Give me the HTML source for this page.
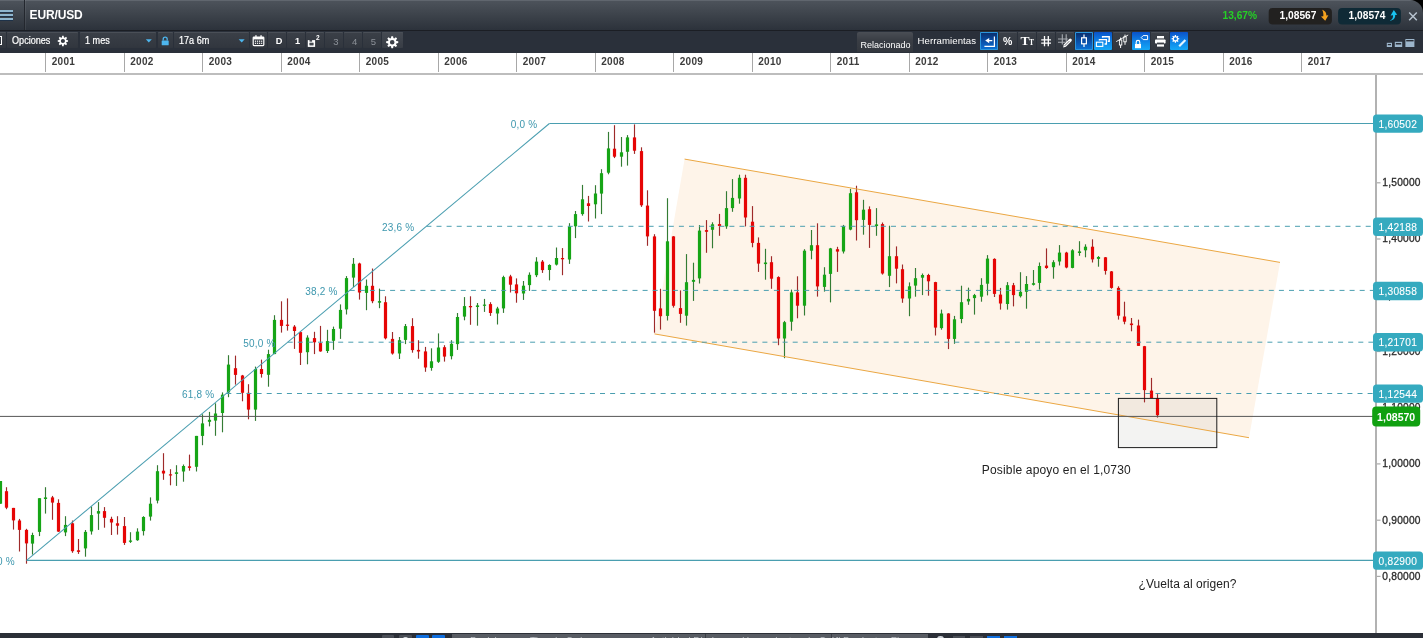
<!DOCTYPE html>
<html><head><meta charset="utf-8"><title>EUR/USD</title>
<style>
html,body{margin:0;padding:0;}
body{width:1423px;height:638px;overflow:hidden;background:#fff;position:relative;font-family:"Liberation Sans",Arial,sans-serif;}
#corner{position:absolute;right:0;top:0;width:14px;height:14px;background:#000;}
#topbar{position:absolute;left:0;top:0;width:1423px;height:30px;background:linear-gradient(#6a7078 0,#4c525a 1.5px,#3b4149 55%,#2c323b 100%);border-top-right-radius:13px;}
#topline{position:absolute;left:0;top:30px;width:1423px;height:1.5px;background:#1b1e24;}
#toolbar{position:absolute;left:0;top:31px;width:1423px;height:21.5px;background:#2a303a;}
#menu{position:absolute;left:0;top:0;width:24px;height:30px;border-right:1px solid #23272e;box-shadow:1px 0 0 rgba(255,255,255,0.07);}
#menu i{position:absolute;left:0;width:13px;height:2px;background:#8fb6cf;box-shadow:0 1px 0 rgba(20,45,75,0.7);}
#title{position:absolute;left:29.5px;top:7.5px;font-size:12px;font-weight:bold;color:#fff;letter-spacing:-0.12px;}
.btn{position:absolute;top:32px;height:16px;background:linear-gradient(#3b4048,#31363e);border-radius:1px;box-shadow:inset 0 1px 0 #4a4f57;}
.t{position:absolute;color:#fff;font-size:10px;white-space:nowrap;}
.yt{position:absolute;top:52.5px;width:1px;height:19.6px;background:#a8a8a8;}
.yl{position:absolute;top:55.6px;font-size:10px;font-weight:bold;color:#3c3c3c;letter-spacing:0.3px;}
#axisline{position:absolute;left:0;top:73px;width:1423px;height:2px;background:#bdbdbd;}
#bottom{position:absolute;left:0;top:633px;width:1423px;height:5px;background:#2b2f37;}
.bt{position:absolute;top:635.6px;font-size:10px;color:#b9bdc3;white-space:nowrap;}
</style></head><body>
<div id="corner"></div>
<div id="topbar"></div><div id="topline"></div>
<div id="menu"><i style="top:9.8px"></i><i style="top:14px"></i><i style="top:18.2px"></i></div>
<div id="title">EUR/USD</div>
<div id="toolbar"></div>
<div class="btn" style="left:-14px;width:20px;"></div>
<div style="position:absolute;left:-7px;top:36.1px;width:9.1px;height:8.9px;border:1px solid #fff;box-sizing:border-box"></div>
<div class="btn" style="left:7.2px;width:70.6px;"></div>
<div class="t" style="left:11.7px;top:34.7px;font-size:10.4px;transform:scaleX(0.875);transform-origin:0 0;-webkit-text-stroke:0.2px #fff">Opciones</div>
<div class="btn" style="left:80px;width:76px;"></div>
<div class="t" style="left:84.5px;top:34.7px;font-size:10.4px;transform:scaleX(0.875);transform-origin:0 0;-webkit-text-stroke:0.2px #fff">1 mes</div>
<div class="btn" style="left:157.5px;width:15.5px;"></div>
<div class="btn" style="left:174px;width:75.2px;"></div>
<div class="t" style="left:178.5px;top:34.7px;font-size:10.4px;transform:scaleX(0.875);transform-origin:0 0;-webkit-text-stroke:0.2px #fff">17a 6m</div>
<div class="btn" style="left:250.1px;width:17.2px;"></div>
<div class="btn" style="left:268.1px;width:18.1px;"></div>
<div class="btn" style="left:287.1px;width:18.1px;"></div>
<div class="btn" style="left:306.1px;width:17.9px;"></div>
<div class="btn" style="left:325.1px;width:18.1px;"></div>
<div class="btn" style="left:344.1px;width:18.1px;"></div>
<div class="btn" style="left:363.1px;width:18.1px;"></div>
<div class="btn" style="left:382px;width:20.7px;background:linear-gradient(#454a52,#383d45);"></div>
<div class="t" style="left:275.7px;top:36.3px;font-weight:bold;font-size:9.2px">D</div>
<div class="t" style="left:295px;top:36.3px;font-weight:bold;font-size:9.2px">1</div>
<div class="t" style="left:315.9px;top:34.4px;font-weight:bold;font-size:6.5px">2</div>
<div class="t" style="left:333.3px;top:36px;font-size:9.5px;color:#8d9299">3</div>
<div class="t" style="left:352.0px;top:36px;font-size:9.5px;color:#8d9299">4</div>
<div class="t" style="left:370.7px;top:36px;font-size:9.5px;color:#8d9299">5</div>
<div style="position:absolute;left:857px;top:32.2px;width:56px;height:20.3px;background:linear-gradient(#4a4e55,#3a3e45 40%,#33373e);border-radius:2px 2px 0 0"></div>
<div class="t" style="left:860.6px;top:39.6px;font-size:9px">Relacionado</div>
<div class="t" style="left:917.6px;top:34.9px;font-size:9.6px;letter-spacing:0.08px">Herramientas</div>
<div class="btn" style="left:980px;width:18px;top:31.8px;height:18.4px;background:linear-gradient(#0a2c68,#0a55b0 60%,#0a74d8);box-shadow:inset 0 0 0 1px #2b95dc;"></div>
<div class="btn" style="left:999px;width:18px;top:31.8px;height:18.4px;"></div>
<div class="btn" style="left:1018px;width:18px;top:31.8px;height:18.4px;"></div>
<div class="btn" style="left:1037px;width:18px;top:31.8px;height:18.4px;"></div>
<div class="btn" style="left:1056px;width:18px;top:31.8px;height:18.4px;"></div>
<div class="btn" style="left:1075px;width:18px;top:31.8px;height:18.4px;background:linear-gradient(#0a2c68,#0a55b0 60%,#0a74d8);box-shadow:inset 0 0 0 1px #2b95dc;"></div>
<div class="btn" style="left:1094px;width:18px;top:31.8px;height:18.4px;background:linear-gradient(#0a52c8,#0f86e8 55%,#15a8f6);box-shadow:none;"></div>
<div class="btn" style="left:1113px;width:18px;top:31.8px;height:18.4px;"></div>
<div class="btn" style="left:1132px;width:18px;top:31.8px;height:18.4px;background:linear-gradient(#0a52c8,#0f86e8 55%,#15a8f6);box-shadow:none;"></div>
<div class="btn" style="left:1151px;width:18px;top:31.8px;height:18.4px;"></div>
<div class="btn" style="left:1170px;width:18px;top:31.8px;height:18.4px;background:linear-gradient(#0a52c8,#0f86e8 55%,#15a8f6);box-shadow:none;"></div>
<svg width="1423" height="53" viewBox="0 0 1423 53" style="position:absolute;left:0;top:0">
<path d="M66.45,39.96 L68.05,40.25 L68.05,41.75 L66.45,42.04 L66.15,42.78 L67.07,44.11 L66.01,45.17 L64.68,44.25 L63.94,44.55 L63.65,46.15 L62.15,46.15 L61.86,44.55 L61.12,44.25 L59.79,45.17 L58.73,44.11 L59.65,42.78 L59.35,42.04 L57.75,41.75 L57.75,40.25 L59.35,39.96 L59.65,39.22 L58.73,37.89 L59.79,36.83 L61.12,37.75 L61.86,37.45 L62.15,35.85 L63.65,35.85 L63.94,37.45 L64.68,37.75 L66.01,36.83 L67.07,37.89 L66.15,39.22Z M65.00,41.00 A2.1,2.1 0 1,0 60.80,41.00 A2.1,2.1 0 1,0 65.00,41.00Z" fill="#fff" fill-rule="evenodd"/>
<path d="M145.8,39.2 L151.8,39.2 L148.8,42.6Z" fill="#4db6ee"/>
<path d="M238.7,39.2 L244.7,39.2 L241.7,42.6Z" fill="#4db6ee"/>
<rect x="161.7" y="40.4" width="7" height="4.9" rx="0.6" fill="#4db6ee"/>
<path d="M163.2,40.6 V39.2 A2,2.1 0 0 1 167.2,39.2 V40.6" fill="none" stroke="#4db6ee" stroke-width="1.3"/>
<rect x="253.2" y="37" width="10.6" height="8.6" rx="0.8" fill="none" stroke="#fff" stroke-width="1.2"/>
<rect x="253.2" y="37" width="10.6" height="2.4" fill="#fff"/>
<rect x="255.3" y="35.2" width="1.3" height="2.6" fill="#fff"/><rect x="260.4" y="35.2" width="1.3" height="2.6" fill="#fff"/>
<rect x="254.90" y="40.60" width="1.2" height="1.2" fill="#fff"/>
<rect x="256.95" y="40.60" width="1.2" height="1.2" fill="#fff"/>
<rect x="259.00" y="40.60" width="1.2" height="1.2" fill="#fff"/>
<rect x="261.05" y="40.60" width="1.2" height="1.2" fill="#fff"/>
<rect x="254.90" y="42.70" width="1.2" height="1.2" fill="#fff"/>
<rect x="256.95" y="42.70" width="1.2" height="1.2" fill="#fff"/>
<rect x="259.00" y="42.70" width="1.2" height="1.2" fill="#fff"/>
<rect x="261.05" y="42.70" width="1.2" height="1.2" fill="#fff"/>
<rect x="307.8" y="40.1" width="7.3" height="6.8" fill="#fff"/>
<rect x="309.5" y="40.1" width="2.6" height="1.5" fill="#343941"/><rect x="309.5" y="42.7" width="4" height="2.7" fill="#343941"/><rect x="309.5" y="43.6" width="4" height="0.8" fill="#5a5f66"/>
<rect x="309.5" y="44" width="4.2" height="2.2" fill="#fff" opacity="0"/>
<path d="M396.33,40.99 L398.24,41.32 L398.24,43.08 L396.33,43.41 L395.97,44.26 L397.09,45.85 L395.85,47.09 L394.26,45.97 L393.41,46.33 L393.08,48.24 L391.32,48.24 L390.99,46.33 L390.14,45.97 L388.55,47.09 L387.31,45.85 L388.43,44.26 L388.07,43.41 L386.16,43.08 L386.16,41.32 L388.07,40.99 L388.43,40.14 L387.31,38.55 L388.55,37.31 L390.14,38.43 L390.99,38.07 L391.32,36.16 L393.08,36.16 L393.41,38.07 L394.26,38.43 L395.85,37.31 L397.09,38.55 L395.97,40.14Z M394.50,42.20 A2.3,2.3 0 1,0 389.90,42.20 A2.3,2.3 0 1,0 394.50,42.20Z" fill="#fff" fill-rule="evenodd"/>
<path d="M984.4,46.4 H994.4 V36.6" fill="none" stroke="#fff" stroke-width="1.2"/>
<path d="M985.2,40.6 L989.2,37.9 V39.9 H992.3 V41.3 H989.2 V43.3Z" fill="#fff"/>
<text x="1003.1" y="45.3" font-size="10.5" font-weight="bold" fill="#fff" font-family="Liberation Sans, Arial, sans-serif">%</text>
<text x="1020.6" y="45.1" font-size="13.5" font-weight="bold" fill="#fff" font-family="Liberation Serif, serif">T</text>
<text x="1028.9" y="45.1" font-size="7.5" font-weight="bold" fill="#fff" font-family="Liberation Serif, serif">T</text>
<path d="M1044.5,36 V46.2 M1048.3,36 V46.2 M1041.2,39.8 H1051 M1041.2,43.1 H1051" stroke="#fff" stroke-width="1.3" fill="none"/>
<path d="M1062.3,34.3 V44.4 M1066.2,34.3 V44.4 M1058,39 H1067.8 M1058,42.2 H1065" stroke="#a9adb3" stroke-width="1.1" fill="none"/>
<path d="M1063.2,47.4 L1063.7,44.6 L1069.2,39.1 A1.2,1.2 0 0 1 1071.4,41.2 L1065.9,46.7Z" fill="#fff"/>
<path d="M1064.6,45.9 L1069.4,41.1" stroke="#33383f" stroke-width="0.7"/>
<path d="M1084,34.6 V47" stroke="#fff" stroke-width="1.2"/><rect x="1081.6" y="37.8" width="4.8" height="6" fill="#0a4ea6" stroke="#fff" stroke-width="1.2"/>
<rect x="1096.4" y="42.2" width="6.4" height="4.2" fill="none" stroke="#fff" stroke-width="1.1"/>
<path d="M1099.4,40.6 V39.6 H1106.4 V44 H1104.6" fill="none" stroke="#fff" stroke-width="1.3"/>
<path d="M1102.6,37.8 V36.8 H1109.2 V41.2 H1107.8" fill="none" stroke="#fff" stroke-width="1.4"/>
<path d="M1120.6,37.6 V48 M1125,34.6 V44.8" stroke="#fff" stroke-width="1"/>
<rect x="1119.4" y="40" width="2.4" height="5" fill="#33383f" stroke="#fff" stroke-width="0.9"/><rect x="1123.8" y="36.8" width="2.4" height="5" fill="#33383f" stroke="#fff" stroke-width="0.9"/>
<path d="M1116.2,41.6 L1128.2,35" stroke="#fff" stroke-width="0.9"/>
<rect x="1135" y="44" width="6" height="4.2" fill="#fff"/>
<path d="M1136.2,44 V42.2 A1.8,1.8 0 0 1 1139.8,42.2 V44" fill="none" stroke="#fff" stroke-width="1.1"/>
<path d="M1141.2,37.6 L1143.2,35.6 H1147.6 V39.6 H1143.2Z" fill="none" stroke="#fff" stroke-width="1"/>
<rect x="1157" y="36" width="7" height="2.4" fill="#fff"/><rect x="1155" y="39.4" width="10.6" height="4.2" rx="0.8" fill="#fff"/><rect x="1157" y="44.4" width="7" height="2.2" fill="#fff"/><rect x="1157" y="42.6" width="7" height="1.3" fill="#33383f"/>
<path d="M1177.99,38.04 L1179.26,38.24 L1179.26,39.36 L1177.99,39.56 L1177.77,40.10 L1178.53,41.13 L1177.73,41.93 L1176.70,41.17 L1176.16,41.39 L1175.96,42.66 L1174.84,42.66 L1174.64,41.39 L1174.10,41.17 L1173.07,41.93 L1172.27,41.13 L1173.03,40.10 L1172.81,39.56 L1171.54,39.36 L1171.54,38.24 L1172.81,38.04 L1173.03,37.50 L1172.27,36.47 L1173.07,35.67 L1174.10,36.43 L1174.64,36.21 L1174.84,34.94 L1175.96,34.94 L1176.16,36.21 L1176.70,36.43 L1177.73,35.67 L1178.53,36.47 L1177.77,37.50Z M1176.90,38.80 A1.5,1.5 0 1,0 1173.90,38.80 A1.5,1.5 0 1,0 1176.90,38.80Z" fill="#fff" fill-rule="evenodd"/>
<path d="M1179.2,46.2 L1185.4,40" stroke="#e4f4ff" stroke-width="2.2" fill="none"/>
<rect x="1386.8" y="42.8" width="5.2" height="4.2" fill="#9db6cc"/><rect x="1387.8" y="44" width="3.2" height="1.2" fill="#2a2f38"/>
<rect x="1394.8" y="41.8" width="7.4" height="5.2" fill="#9db6cc"/><rect x="1395.8" y="43" width="5.4" height="1.5" fill="#2a2f38"/>
<rect x="1405.4" y="39" width="9" height="8" fill="#9db6cc"/><rect x="1406.2" y="40" width="7.4" height="1.4" fill="#2a2f38"/>
<rect x="1268.7" y="8" width="63.2" height="16.6" rx="4" fill="#222120"/>
<rect x="1338.1" y="8" width="62.8" height="16.6" rx="4" fill="#0f2a36"/>
<path d="M1322.2,9.8 C1325.6,11 1326.6,13.6 1326.3,15.6 L1328.4,15.2 L1325.2,20.8 L1321,16.6 L1323.3,16.2 C1323.6,14 1323.2,12 1322.2,9.8Z" fill="#f6a21e"/>
<path d="M1389.6,20.8 C1392.4,19.8 1393.2,17.4 1393,15.2 L1390.6,15.4 L1393.8,10 L1397.2,14.8 L1395.2,15 C1395.4,17.6 1394,20.2 1389.6,20.8Z" fill="#19c2f0"/>
<path d="M1409.2,12.4 L1416.8,20.2 M1416.8,12.4 L1409.2,20.2" stroke="#b7c3cf" stroke-width="1.5" fill="none"/>
</svg>
<div class="t" style="left:1222.5px;top:10px;color:#25d025;font-size:10.2px;font-weight:bold;letter-spacing:0">13,67%</div>
<div class="t" style="left:1279.6px;top:10px;font-size:10.2px;font-weight:bold;letter-spacing:0">1,08567</div>
<div class="t" style="left:1348.6px;top:10px;font-size:10.2px;font-weight:bold;letter-spacing:0">1,08574</div>
<div class="yt" style="left:45.3px"></div><div class="yl" style="left:51.7px">2001</div><div class="yt" style="left:123.8px"></div><div class="yl" style="left:130.2px">2002</div><div class="yt" style="left:202.3px"></div><div class="yl" style="left:208.7px">2003</div><div class="yt" style="left:280.8px"></div><div class="yl" style="left:287.2px">2004</div><div class="yt" style="left:359.3px"></div><div class="yl" style="left:365.7px">2005</div><div class="yt" style="left:437.8px"></div><div class="yl" style="left:444.2px">2006</div><div class="yt" style="left:516.3px"></div><div class="yl" style="left:522.7px">2007</div><div class="yt" style="left:594.8px"></div><div class="yl" style="left:601.2px">2008</div><div class="yt" style="left:673.3px"></div><div class="yl" style="left:679.7px">2009</div><div class="yt" style="left:751.8px"></div><div class="yl" style="left:758.2px">2010</div><div class="yt" style="left:830.3px"></div><div class="yl" style="left:836.7px">2011</div><div class="yt" style="left:908.8px"></div><div class="yl" style="left:915.2px">2012</div><div class="yt" style="left:987.3px"></div><div class="yl" style="left:993.7px">2013</div><div class="yt" style="left:1065.8px"></div><div class="yl" style="left:1072.2px">2014</div><div class="yt" style="left:1144.3px"></div><div class="yl" style="left:1150.7px">2015</div><div class="yt" style="left:1222.8px"></div><div class="yl" style="left:1229.2px">2016</div><div class="yt" style="left:1301.3px"></div><div class="yl" style="left:1307.7px">2017</div>
<div id="axisline"></div>
<svg id="chart" width="1423" height="638" viewBox="0 0 1423 638" style="position:absolute;left:0;top:0">
<defs><clipPath id="cp"><rect x="0" y="75" width="1375" height="558"/></clipPath></defs>
<g clip-path="url(#cp)">
<polygon points="684.6,159.1 1280,262.4 1249,437.7 654.5,333.9" fill="#fef4e9"/>
<rect x="1118.4" y="398.4" width="98.4" height="49.2" fill="rgba(180,180,175,0.155)"/>
<line x1="0.50" y1="481.0" x2="0.50" y2="503.7" stroke="#347c34" stroke-width="1.15"/>
<rect x="-1.10" y="481.0" width="3.2" height="22.7" fill="#16a516"/>
<line x1="6.50" y1="487.2" x2="6.50" y2="509.2" stroke="#9e2a2a" stroke-width="1.15"/>
<rect x="4.90" y="491.2" width="3.2" height="16.5" fill="#e60505"/>
<line x1="13.50" y1="507.9" x2="13.50" y2="529.6" stroke="#9e2a2a" stroke-width="1.15"/>
<rect x="11.90" y="507.9" width="3.2" height="12.5" fill="#e60505"/>
<line x1="19.50" y1="518.9" x2="19.50" y2="551.5" stroke="#9e2a2a" stroke-width="1.15"/>
<rect x="17.90" y="520.5" width="3.2" height="9.4" fill="#e60505"/>
<line x1="26.50" y1="528.8" x2="26.50" y2="563.7" stroke="#9e2a2a" stroke-width="1.15"/>
<rect x="24.90" y="529.9" width="3.2" height="13.5" fill="#e60505"/>
<line x1="32.50" y1="532.7" x2="32.50" y2="554.6" stroke="#347c34" stroke-width="1.15"/>
<rect x="30.90" y="535.0" width="3.2" height="8.6" fill="#16a516"/>
<line x1="39.50" y1="498.2" x2="39.50" y2="536.1" stroke="#347c34" stroke-width="1.15"/>
<rect x="37.90" y="498.2" width="3.2" height="33.7" fill="#16a516"/>
<line x1="45.50" y1="487.2" x2="45.50" y2="513.6" stroke="#347c34" stroke-width="1.15"/>
<rect x="43.90" y="497.4" width="3.2" height="1.6" fill="#16a516"/>
<line x1="52.50" y1="495.9" x2="52.50" y2="519.8" stroke="#9e2a2a" stroke-width="1.15"/>
<rect x="50.90" y="497.4" width="3.2" height="5.2" fill="#e60505"/>
<line x1="58.50" y1="499.3" x2="58.50" y2="531.9" stroke="#9e2a2a" stroke-width="1.15"/>
<rect x="56.90" y="502.9" width="3.2" height="28.7" fill="#e60505"/>
<line x1="65.50" y1="516.2" x2="65.50" y2="536.1" stroke="#347c34" stroke-width="1.15"/>
<rect x="63.90" y="524.9" width="3.2" height="7.5" fill="#16a516"/>
<line x1="72.50" y1="520.5" x2="72.50" y2="552.8" stroke="#9e2a2a" stroke-width="1.15"/>
<rect x="70.90" y="523.3" width="3.2" height="27.9" fill="#e60505"/>
<line x1="78.50" y1="539.0" x2="78.50" y2="553.9" stroke="#9e2a2a" stroke-width="1.15"/>
<rect x="76.90" y="550.3" width="3.2" height="1.6" fill="#e60505"/>
<line x1="85.50" y1="530.0" x2="85.50" y2="556.7" stroke="#347c34" stroke-width="1.15"/>
<rect x="83.90" y="531.9" width="3.2" height="16.5" fill="#16a516"/>
<line x1="91.50" y1="506.4" x2="91.50" y2="534.6" stroke="#347c34" stroke-width="1.15"/>
<rect x="89.90" y="515.1" width="3.2" height="16.3" fill="#16a516"/>
<line x1="98.50" y1="502.1" x2="98.50" y2="529.9" stroke="#347c34" stroke-width="1.15"/>
<rect x="96.90" y="511.1" width="3.2" height="2.5" fill="#16a516"/>
<line x1="104.50" y1="507.1" x2="104.50" y2="527.7" stroke="#9e2a2a" stroke-width="1.15"/>
<rect x="102.90" y="511.1" width="3.2" height="6.7" fill="#e60505"/>
<line x1="111.50" y1="516.7" x2="111.50" y2="535.0" stroke="#9e2a2a" stroke-width="1.15"/>
<rect x="109.90" y="518.9" width="3.2" height="3.6" fill="#e60505"/>
<line x1="117.50" y1="516.2" x2="117.50" y2="534.6" stroke="#9e2a2a" stroke-width="1.15"/>
<rect x="115.90" y="523.3" width="3.2" height="2.4" fill="#e60505"/>
<line x1="124.50" y1="517.0" x2="124.50" y2="544.9" stroke="#9e2a2a" stroke-width="1.15"/>
<rect x="122.90" y="526.1" width="3.2" height="16.8" fill="#e60505"/>
<line x1="130.50" y1="532.2" x2="130.50" y2="542.9" stroke="#347c34" stroke-width="1.15"/>
<rect x="128.90" y="540.5" width="3.2" height="1.3" fill="#16a516"/>
<line x1="137.50" y1="528.3" x2="137.50" y2="540.8" stroke="#347c34" stroke-width="1.15"/>
<rect x="135.90" y="531.6" width="3.2" height="8.6" fill="#16a516"/>
<line x1="143.50" y1="516.2" x2="143.50" y2="535.5" stroke="#347c34" stroke-width="1.15"/>
<rect x="141.90" y="517.0" width="3.2" height="14.1" fill="#16a516"/>
<line x1="150.50" y1="497.4" x2="150.50" y2="520.6" stroke="#347c34" stroke-width="1.15"/>
<rect x="148.90" y="503.7" width="3.2" height="12.9" fill="#16a516"/>
<line x1="157.50" y1="465.2" x2="157.50" y2="503.4" stroke="#347c34" stroke-width="1.15"/>
<rect x="155.90" y="471.2" width="3.2" height="29.4" fill="#16a516"/>
<line x1="163.50" y1="453.2" x2="163.50" y2="479.8" stroke="#9e2a2a" stroke-width="1.15"/>
<rect x="161.90" y="470.7" width="3.2" height="2.8" fill="#e60505"/>
<line x1="170.50" y1="469.2" x2="170.50" y2="485.3" stroke="#9e2a2a" stroke-width="1.15"/>
<rect x="168.90" y="474.3" width="3.2" height="1.2" fill="#e60505"/>
<line x1="176.50" y1="465.2" x2="176.50" y2="485.9" stroke="#347c34" stroke-width="1.15"/>
<rect x="174.90" y="472.3" width="3.2" height="1.6" fill="#16a516"/>
<line x1="183.50" y1="464.5" x2="183.50" y2="481.7" stroke="#347c34" stroke-width="1.15"/>
<rect x="181.90" y="466.0" width="3.2" height="5.5" fill="#16a516"/>
<line x1="189.50" y1="454.6" x2="189.50" y2="470.7" stroke="#9e2a2a" stroke-width="1.15"/>
<rect x="187.90" y="466.3" width="3.2" height="1.6" fill="#e60505"/>
<line x1="196.50" y1="435.9" x2="196.50" y2="471.5" stroke="#347c34" stroke-width="1.15"/>
<rect x="194.90" y="435.9" width="3.2" height="30.9" fill="#16a516"/>
<line x1="202.50" y1="414.3" x2="202.50" y2="445.2" stroke="#347c34" stroke-width="1.15"/>
<rect x="200.90" y="423.4" width="3.2" height="12.5" fill="#16a516"/>
<line x1="209.50" y1="411.9" x2="209.50" y2="426.4" stroke="#347c34" stroke-width="1.15"/>
<rect x="207.90" y="419.8" width="3.2" height="2.0" fill="#16a516"/>
<line x1="215.50" y1="403.3" x2="215.50" y2="435.8" stroke="#347c34" stroke-width="1.15"/>
<rect x="213.90" y="413.5" width="3.2" height="7.1" fill="#16a516"/>
<line x1="222.50" y1="392.4" x2="222.50" y2="432.3" stroke="#347c34" stroke-width="1.15"/>
<rect x="220.90" y="394.7" width="3.2" height="18.3" fill="#16a516"/>
<line x1="228.50" y1="355.2" x2="228.50" y2="397.2" stroke="#347c34" stroke-width="1.15"/>
<rect x="226.90" y="364.6" width="3.2" height="27.9" fill="#16a516"/>
<line x1="235.50" y1="355.6" x2="235.50" y2="384.6" stroke="#9e2a2a" stroke-width="1.15"/>
<rect x="233.90" y="368.2" width="3.2" height="6.7" fill="#e60505"/>
<line x1="242.50" y1="374.9" x2="242.50" y2="401.3" stroke="#9e2a2a" stroke-width="1.15"/>
<rect x="240.90" y="375.5" width="3.2" height="17.3" fill="#e60505"/>
<line x1="248.50" y1="384.2" x2="248.50" y2="419.3" stroke="#9e2a2a" stroke-width="1.15"/>
<rect x="246.90" y="392.8" width="3.2" height="16.8" fill="#e60505"/>
<line x1="255.50" y1="366.6" x2="255.50" y2="420.9" stroke="#347c34" stroke-width="1.15"/>
<rect x="253.90" y="369.0" width="3.2" height="40.6" fill="#16a516"/>
<line x1="261.50" y1="359.6" x2="261.50" y2="377.6" stroke="#9e2a2a" stroke-width="1.15"/>
<rect x="259.90" y="369.0" width="3.2" height="5.0" fill="#e60505"/>
<line x1="268.50" y1="349.7" x2="268.50" y2="386.7" stroke="#347c34" stroke-width="1.15"/>
<rect x="266.90" y="354.1" width="3.2" height="20.7" fill="#16a516"/>
<line x1="274.50" y1="315.2" x2="274.50" y2="354.1" stroke="#347c34" stroke-width="1.15"/>
<rect x="272.90" y="319.9" width="3.2" height="34.2" fill="#16a516"/>
<line x1="281.50" y1="301.3" x2="281.50" y2="332.6" stroke="#9e2a2a" stroke-width="1.15"/>
<rect x="279.90" y="319.9" width="3.2" height="6.0" fill="#e60505"/>
<line x1="287.50" y1="298.4" x2="287.50" y2="330.6" stroke="#9e2a2a" stroke-width="1.15"/>
<rect x="285.90" y="324.6" width="3.2" height="1.3" fill="#e60505"/>
<line x1="294.50" y1="325.1" x2="294.50" y2="348.9" stroke="#9e2a2a" stroke-width="1.15"/>
<rect x="292.90" y="326.6" width="3.2" height="4.4" fill="#e60505"/>
<line x1="300.50" y1="331.0" x2="300.50" y2="365.0" stroke="#9e2a2a" stroke-width="1.15"/>
<rect x="298.90" y="332.1" width="3.2" height="20.7" fill="#e60505"/>
<line x1="307.50" y1="335.3" x2="307.50" y2="364.3" stroke="#347c34" stroke-width="1.15"/>
<rect x="305.90" y="337.6" width="3.2" height="14.6" fill="#16a516"/>
<line x1="314.50" y1="331.8" x2="314.50" y2="354.1" stroke="#9e2a2a" stroke-width="1.15"/>
<rect x="312.90" y="338.1" width="3.2" height="4.2" fill="#e60505"/>
<line x1="320.50" y1="325.9" x2="320.50" y2="351.7" stroke="#9e2a2a" stroke-width="1.15"/>
<rect x="318.90" y="343.1" width="3.2" height="8.3" fill="#e60505"/>
<line x1="327.50" y1="329.8" x2="327.50" y2="353.0" stroke="#347c34" stroke-width="1.15"/>
<rect x="325.90" y="341.1" width="3.2" height="9.9" fill="#16a516"/>
<line x1="333.50" y1="326.6" x2="333.50" y2="349.8" stroke="#347c34" stroke-width="1.15"/>
<rect x="331.90" y="329.0" width="3.2" height="11.8" fill="#16a516"/>
<line x1="340.50" y1="304.4" x2="340.50" y2="338.9" stroke="#347c34" stroke-width="1.15"/>
<rect x="338.90" y="309.9" width="3.2" height="18.8" fill="#16a516"/>
<line x1="346.50" y1="276.1" x2="346.50" y2="314.5" stroke="#347c34" stroke-width="1.15"/>
<rect x="344.90" y="278.1" width="3.2" height="31.3" fill="#16a516"/>
<line x1="353.50" y1="258.0" x2="353.50" y2="287.0" stroke="#347c34" stroke-width="1.15"/>
<rect x="351.90" y="263.8" width="3.2" height="13.8" fill="#16a516"/>
<line x1="359.50" y1="262.7" x2="359.50" y2="299.6" stroke="#9e2a2a" stroke-width="1.15"/>
<rect x="357.90" y="263.5" width="3.2" height="29.0" fill="#e60505"/>
<line x1="366.50" y1="279.5" x2="366.50" y2="310.2" stroke="#347c34" stroke-width="1.15"/>
<rect x="364.90" y="285.8" width="3.2" height="7.1" fill="#16a516"/>
<line x1="372.50" y1="268.5" x2="372.50" y2="303.2" stroke="#9e2a2a" stroke-width="1.15"/>
<rect x="370.90" y="285.8" width="3.2" height="15.4" fill="#e60505"/>
<line x1="379.50" y1="288.6" x2="379.50" y2="308.2" stroke="#347c34" stroke-width="1.15"/>
<rect x="377.90" y="301.1" width="3.2" height="1.6" fill="#16a516"/>
<line x1="385.50" y1="296.3" x2="385.50" y2="339.4" stroke="#9e2a2a" stroke-width="1.15"/>
<rect x="383.90" y="302.2" width="3.2" height="36.1" fill="#e60505"/>
<line x1="392.50" y1="332.0" x2="392.50" y2="354.6" stroke="#9e2a2a" stroke-width="1.15"/>
<rect x="390.90" y="338.9" width="3.2" height="14.6" fill="#e60505"/>
<line x1="399.50" y1="337.0" x2="399.50" y2="359.0" stroke="#347c34" stroke-width="1.15"/>
<rect x="397.90" y="340.2" width="3.2" height="13.3" fill="#16a516"/>
<line x1="405.50" y1="324.0" x2="405.50" y2="344.1" stroke="#347c34" stroke-width="1.15"/>
<rect x="403.90" y="326.1" width="3.2" height="13.8" fill="#16a516"/>
<line x1="412.50" y1="318.2" x2="412.50" y2="352.7" stroke="#9e2a2a" stroke-width="1.15"/>
<rect x="410.90" y="326.1" width="3.2" height="24.0" fill="#e60505"/>
<line x1="418.50" y1="340.2" x2="418.50" y2="358.7" stroke="#9e2a2a" stroke-width="1.15"/>
<rect x="416.90" y="349.9" width="3.2" height="1.6" fill="#e60505"/>
<line x1="425.50" y1="346.9" x2="425.50" y2="371.8" stroke="#9e2a2a" stroke-width="1.15"/>
<rect x="423.90" y="351.4" width="3.2" height="16.1" fill="#e60505"/>
<line x1="431.50" y1="348.3" x2="431.50" y2="370.7" stroke="#347c34" stroke-width="1.15"/>
<rect x="429.90" y="361.3" width="3.2" height="6.6" fill="#16a516"/>
<line x1="438.50" y1="333.4" x2="438.50" y2="362.9" stroke="#347c34" stroke-width="1.15"/>
<rect x="436.90" y="347.5" width="3.2" height="14.3" fill="#16a516"/>
<line x1="444.50" y1="345.2" x2="444.50" y2="361.6" stroke="#9e2a2a" stroke-width="1.15"/>
<rect x="442.90" y="347.2" width="3.2" height="9.4" fill="#e60505"/>
<line x1="451.50" y1="340.2" x2="451.50" y2="359.4" stroke="#347c34" stroke-width="1.15"/>
<rect x="449.90" y="343.8" width="3.2" height="12.4" fill="#16a516"/>
<line x1="457.50" y1="313.0" x2="457.50" y2="349.9" stroke="#347c34" stroke-width="1.15"/>
<rect x="455.90" y="317.0" width="3.2" height="27.1" fill="#16a516"/>
<line x1="464.50" y1="297.1" x2="464.50" y2="320.3" stroke="#347c34" stroke-width="1.15"/>
<rect x="462.90" y="306.1" width="3.2" height="10.5" fill="#16a516"/>
<line x1="470.50" y1="296.3" x2="470.50" y2="324.8" stroke="#9e2a2a" stroke-width="1.15"/>
<rect x="468.90" y="306.0" width="3.2" height="1.3" fill="#e60505"/>
<line x1="477.50" y1="303.0" x2="477.50" y2="325.7" stroke="#347c34" stroke-width="1.15"/>
<rect x="475.90" y="305.4" width="3.2" height="1.6" fill="#16a516"/>
<line x1="484.50" y1="298.9" x2="484.50" y2="311.9" stroke="#347c34" stroke-width="1.15"/>
<rect x="482.90" y="304.6" width="3.2" height="1.2" fill="#16a516"/>
<line x1="490.50" y1="302.2" x2="490.50" y2="315.9" stroke="#9e2a2a" stroke-width="1.15"/>
<rect x="488.90" y="304.1" width="3.2" height="8.9" fill="#e60505"/>
<line x1="497.50" y1="306.8" x2="497.50" y2="324.5" stroke="#347c34" stroke-width="1.15"/>
<rect x="495.90" y="308.5" width="3.2" height="5.0" fill="#16a516"/>
<line x1="503.50" y1="275.7" x2="503.50" y2="312.9" stroke="#347c34" stroke-width="1.15"/>
<rect x="501.90" y="277.1" width="3.2" height="31.3" fill="#16a516"/>
<line x1="510.50" y1="274.8" x2="510.50" y2="292.5" stroke="#9e2a2a" stroke-width="1.15"/>
<rect x="508.90" y="276.4" width="3.2" height="8.3" fill="#e60505"/>
<line x1="516.50" y1="278.4" x2="516.50" y2="302.7" stroke="#9e2a2a" stroke-width="1.15"/>
<rect x="514.90" y="284.4" width="3.2" height="8.9" fill="#e60505"/>
<line x1="523.50" y1="281.0" x2="523.50" y2="299.9" stroke="#347c34" stroke-width="1.15"/>
<rect x="521.90" y="285.7" width="3.2" height="7.8" fill="#16a516"/>
<line x1="529.50" y1="272.4" x2="529.50" y2="290.9" stroke="#347c34" stroke-width="1.15"/>
<rect x="527.90" y="274.8" width="3.2" height="10.3" fill="#16a516"/>
<line x1="536.50" y1="257.2" x2="536.50" y2="277.1" stroke="#347c34" stroke-width="1.15"/>
<rect x="534.90" y="261.6" width="3.2" height="13.6" fill="#16a516"/>
<line x1="542.50" y1="260.0" x2="542.50" y2="272.9" stroke="#9e2a2a" stroke-width="1.15"/>
<rect x="540.90" y="261.6" width="3.2" height="8.5" fill="#e60505"/>
<line x1="549.50" y1="264.3" x2="549.50" y2="280.4" stroke="#347c34" stroke-width="1.15"/>
<rect x="547.90" y="265.0" width="3.2" height="5.0" fill="#16a516"/>
<line x1="556.50" y1="247.5" x2="556.50" y2="265.5" stroke="#347c34" stroke-width="1.15"/>
<rect x="554.90" y="258.0" width="3.2" height="6.6" fill="#16a516"/>
<line x1="562.50" y1="248.1" x2="562.50" y2="275.2" stroke="#9e2a2a" stroke-width="1.15"/>
<rect x="560.90" y="258.0" width="3.2" height="1.3" fill="#e60505"/>
<line x1="569.50" y1="223.2" x2="569.50" y2="263.9" stroke="#347c34" stroke-width="1.15"/>
<rect x="567.90" y="226.6" width="3.2" height="32.9" fill="#16a516"/>
<line x1="575.50" y1="211.0" x2="575.50" y2="238.1" stroke="#347c34" stroke-width="1.15"/>
<rect x="573.90" y="214.1" width="3.2" height="12.2" fill="#16a516"/>
<line x1="582.50" y1="184.9" x2="582.50" y2="215.7" stroke="#347c34" stroke-width="1.15"/>
<rect x="580.90" y="199.3" width="3.2" height="14.8" fill="#16a516"/>
<line x1="588.50" y1="195.9" x2="588.50" y2="221.5" stroke="#9e2a2a" stroke-width="1.15"/>
<rect x="586.90" y="203.3" width="3.2" height="2.7" fill="#e60505"/>
<line x1="595.50" y1="185.2" x2="595.50" y2="218.5" stroke="#347c34" stroke-width="1.15"/>
<rect x="593.90" y="193.5" width="3.2" height="10.8" fill="#16a516"/>
<line x1="601.50" y1="169.2" x2="601.50" y2="214.1" stroke="#347c34" stroke-width="1.15"/>
<rect x="599.90" y="173.2" width="3.2" height="20.4" fill="#16a516"/>
<line x1="608.50" y1="131.9" x2="608.50" y2="174.3" stroke="#347c34" stroke-width="1.15"/>
<rect x="606.90" y="148.4" width="3.2" height="24.3" fill="#16a516"/>
<line x1="614.50" y1="125.2" x2="614.50" y2="158.1" stroke="#9e2a2a" stroke-width="1.15"/>
<rect x="612.90" y="148.7" width="3.2" height="8.0" fill="#e60505"/>
<line x1="621.50" y1="137.0" x2="621.50" y2="166.7" stroke="#347c34" stroke-width="1.15"/>
<rect x="619.90" y="152.3" width="3.2" height="4.4" fill="#16a516"/>
<line x1="627.50" y1="135.1" x2="627.50" y2="165.6" stroke="#347c34" stroke-width="1.15"/>
<rect x="625.90" y="137.4" width="3.2" height="14.4" fill="#16a516"/>
<line x1="634.50" y1="124.4" x2="634.50" y2="153.9" stroke="#9e2a2a" stroke-width="1.15"/>
<rect x="632.90" y="137.4" width="3.2" height="13.3" fill="#e60505"/>
<line x1="641.50" y1="147.3" x2="641.50" y2="206.9" stroke="#9e2a2a" stroke-width="1.15"/>
<rect x="639.90" y="151.1" width="3.2" height="54.2" fill="#e60505"/>
<line x1="647.50" y1="190.3" x2="647.50" y2="245.8" stroke="#9e2a2a" stroke-width="1.15"/>
<rect x="645.90" y="205.6" width="3.2" height="30.8" fill="#e60505"/>
<line x1="654.50" y1="234.2" x2="654.50" y2="332.7" stroke="#9e2a2a" stroke-width="1.15"/>
<rect x="652.90" y="236.4" width="3.2" height="74.4" fill="#e60505"/>
<line x1="660.50" y1="288.8" x2="660.50" y2="329.6" stroke="#9e2a2a" stroke-width="1.15"/>
<rect x="658.90" y="308.4" width="3.2" height="7.8" fill="#e60505"/>
<line x1="667.50" y1="198.2" x2="667.50" y2="320.5" stroke="#347c34" stroke-width="1.15"/>
<rect x="665.90" y="241.3" width="3.2" height="74.6" fill="#16a516"/>
<line x1="673.50" y1="236.1" x2="673.50" y2="307.6" stroke="#9e2a2a" stroke-width="1.15"/>
<rect x="671.90" y="236.4" width="3.2" height="69.4" fill="#e60505"/>
<line x1="680.50" y1="290.4" x2="680.50" y2="322.8" stroke="#9e2a2a" stroke-width="1.15"/>
<rect x="678.90" y="308.1" width="3.2" height="5.8" fill="#e60505"/>
<line x1="686.50" y1="254.1" x2="686.50" y2="325.6" stroke="#347c34" stroke-width="1.15"/>
<rect x="684.90" y="282.2" width="3.2" height="33.5" fill="#16a516"/>
<line x1="693.50" y1="262.7" x2="693.50" y2="300.9" stroke="#347c34" stroke-width="1.15"/>
<rect x="691.90" y="279.9" width="3.2" height="1.9" fill="#16a516"/>
<line x1="699.50" y1="225.1" x2="699.50" y2="283.5" stroke="#347c34" stroke-width="1.15"/>
<rect x="697.90" y="230.6" width="3.2" height="47.8" fill="#16a516"/>
<line x1="706.50" y1="220.1" x2="706.50" y2="252.8" stroke="#9e2a2a" stroke-width="1.15"/>
<rect x="704.90" y="230.1" width="3.2" height="1.7" fill="#e60505"/>
<line x1="712.50" y1="222.3" x2="712.50" y2="248.3" stroke="#347c34" stroke-width="1.15"/>
<rect x="710.90" y="224.3" width="3.2" height="5.5" fill="#16a516"/>
<line x1="719.50" y1="213.9" x2="719.50" y2="235.8" stroke="#9e2a2a" stroke-width="1.15"/>
<rect x="717.90" y="224.1" width="3.2" height="1.9" fill="#e60505"/>
<line x1="726.50" y1="191.2" x2="726.50" y2="228.8" stroke="#347c34" stroke-width="1.15"/>
<rect x="724.90" y="208.1" width="3.2" height="18.3" fill="#16a516"/>
<line x1="732.50" y1="179.1" x2="732.50" y2="211.8" stroke="#347c34" stroke-width="1.15"/>
<rect x="730.90" y="197.9" width="3.2" height="10.2" fill="#16a516"/>
<line x1="739.50" y1="174.7" x2="739.50" y2="203.7" stroke="#347c34" stroke-width="1.15"/>
<rect x="737.90" y="177.8" width="3.2" height="20.7" fill="#16a516"/>
<line x1="745.50" y1="174.7" x2="745.50" y2="226.4" stroke="#9e2a2a" stroke-width="1.15"/>
<rect x="743.90" y="177.8" width="3.2" height="39.7" fill="#e60505"/>
<line x1="752.50" y1="206.1" x2="752.50" y2="247.3" stroke="#9e2a2a" stroke-width="1.15"/>
<rect x="750.90" y="221.7" width="3.2" height="21.2" fill="#e60505"/>
<line x1="758.50" y1="237.4" x2="758.50" y2="271.9" stroke="#9e2a2a" stroke-width="1.15"/>
<rect x="756.90" y="242.9" width="3.2" height="20.7" fill="#e60505"/>
<line x1="765.50" y1="248.8" x2="765.50" y2="279.7" stroke="#347c34" stroke-width="1.15"/>
<rect x="763.90" y="262.5" width="3.2" height="1.6" fill="#16a516"/>
<line x1="771.50" y1="256.2" x2="771.50" y2="288.8" stroke="#9e2a2a" stroke-width="1.15"/>
<rect x="769.90" y="262.2" width="3.2" height="16.5" fill="#e60505"/>
<line x1="778.50" y1="276.3" x2="778.50" y2="345.2" stroke="#9e2a2a" stroke-width="1.15"/>
<rect x="776.90" y="277.1" width="3.2" height="61.4" fill="#e60505"/>
<line x1="784.50" y1="320.9" x2="784.50" y2="358.2" stroke="#347c34" stroke-width="1.15"/>
<rect x="782.90" y="322.2" width="3.2" height="16.3" fill="#16a516"/>
<line x1="791.50" y1="289.6" x2="791.50" y2="330.7" stroke="#347c34" stroke-width="1.15"/>
<rect x="789.90" y="292.4" width="3.2" height="29.3" fill="#16a516"/>
<line x1="797.50" y1="276.3" x2="797.50" y2="318.3" stroke="#9e2a2a" stroke-width="1.15"/>
<rect x="795.90" y="292.4" width="3.2" height="13.3" fill="#e60505"/>
<line x1="804.50" y1="249.2" x2="804.50" y2="315.5" stroke="#347c34" stroke-width="1.15"/>
<rect x="802.90" y="250.7" width="3.2" height="55.0" fill="#16a516"/>
<line x1="811.50" y1="230.0" x2="811.50" y2="259.3" stroke="#347c34" stroke-width="1.15"/>
<rect x="809.90" y="245.2" width="3.2" height="5.5" fill="#16a516"/>
<line x1="817.50" y1="223.3" x2="817.50" y2="296.6" stroke="#9e2a2a" stroke-width="1.15"/>
<rect x="815.90" y="245.2" width="3.2" height="41.2" fill="#e60505"/>
<line x1="824.50" y1="267.2" x2="824.50" y2="291.6" stroke="#347c34" stroke-width="1.15"/>
<rect x="822.90" y="274.7" width="3.2" height="12.2" fill="#16a516"/>
<line x1="830.50" y1="247.9" x2="830.50" y2="302.4" stroke="#347c34" stroke-width="1.15"/>
<rect x="828.90" y="248.4" width="3.2" height="25.5" fill="#16a516"/>
<line x1="837.50" y1="246.8" x2="837.50" y2="271.9" stroke="#9e2a2a" stroke-width="1.15"/>
<rect x="835.90" y="249.2" width="3.2" height="2.4" fill="#e60505"/>
<line x1="843.50" y1="224.9" x2="843.50" y2="253.5" stroke="#347c34" stroke-width="1.15"/>
<rect x="841.90" y="226.1" width="3.2" height="25.4" fill="#16a516"/>
<line x1="850.50" y1="188.8" x2="850.50" y2="230.3" stroke="#347c34" stroke-width="1.15"/>
<rect x="848.90" y="193.2" width="3.2" height="36.4" fill="#16a516"/>
<line x1="856.50" y1="185.7" x2="856.50" y2="240.5" stroke="#9e2a2a" stroke-width="1.15"/>
<rect x="854.90" y="192.3" width="3.2" height="27.9" fill="#e60505"/>
<line x1="863.50" y1="199.8" x2="863.50" y2="234.7" stroke="#347c34" stroke-width="1.15"/>
<rect x="861.90" y="209.7" width="3.2" height="10.2" fill="#16a516"/>
<line x1="869.50" y1="206.4" x2="869.50" y2="247.9" stroke="#9e2a2a" stroke-width="1.15"/>
<rect x="867.90" y="209.2" width="3.2" height="15.7" fill="#e60505"/>
<line x1="876.50" y1="208.1" x2="876.50" y2="235.8" stroke="#347c34" stroke-width="1.15"/>
<rect x="874.90" y="224.4" width="3.2" height="1.6" fill="#16a516"/>
<line x1="882.50" y1="222.5" x2="882.50" y2="274.6" stroke="#9e2a2a" stroke-width="1.15"/>
<rect x="880.90" y="224.1" width="3.2" height="49.4" fill="#e60505"/>
<line x1="889.50" y1="225.7" x2="889.50" y2="287.1" stroke="#347c34" stroke-width="1.15"/>
<rect x="887.90" y="256.2" width="3.2" height="19.6" fill="#16a516"/>
<line x1="896.50" y1="246.4" x2="896.50" y2="283.4" stroke="#9e2a2a" stroke-width="1.15"/>
<rect x="894.90" y="256.2" width="3.2" height="12.5" fill="#e60505"/>
<line x1="902.50" y1="264.5" x2="902.50" y2="302.8" stroke="#9e2a2a" stroke-width="1.15"/>
<rect x="900.90" y="269.2" width="3.2" height="29.3" fill="#e60505"/>
<line x1="909.50" y1="282.4" x2="909.50" y2="316.2" stroke="#347c34" stroke-width="1.15"/>
<rect x="907.90" y="286.3" width="3.2" height="12.2" fill="#16a516"/>
<line x1="915.50" y1="268.0" x2="915.50" y2="296.7" stroke="#347c34" stroke-width="1.15"/>
<rect x="913.90" y="278.2" width="3.2" height="7.4" fill="#16a516"/>
<line x1="922.50" y1="273.5" x2="922.50" y2="295.1" stroke="#347c34" stroke-width="1.15"/>
<rect x="920.90" y="275.0" width="3.2" height="2.7" fill="#16a516"/>
<line x1="928.50" y1="273.8" x2="928.50" y2="295.7" stroke="#9e2a2a" stroke-width="1.15"/>
<rect x="926.90" y="275.0" width="3.2" height="6.3" fill="#e60505"/>
<line x1="935.50" y1="281.8" x2="935.50" y2="335.5" stroke="#9e2a2a" stroke-width="1.15"/>
<rect x="933.90" y="282.1" width="3.2" height="45.5" fill="#e60505"/>
<line x1="941.50" y1="309.6" x2="941.50" y2="329.7" stroke="#347c34" stroke-width="1.15"/>
<rect x="939.90" y="313.5" width="3.2" height="14.6" fill="#16a516"/>
<line x1="948.50" y1="313.2" x2="948.50" y2="349.1" stroke="#9e2a2a" stroke-width="1.15"/>
<rect x="946.90" y="313.5" width="3.2" height="25.4" fill="#e60505"/>
<line x1="954.50" y1="315.9" x2="954.50" y2="343.8" stroke="#347c34" stroke-width="1.15"/>
<rect x="952.90" y="319.3" width="3.2" height="19.6" fill="#16a516"/>
<line x1="961.50" y1="285.7" x2="961.50" y2="323.2" stroke="#347c34" stroke-width="1.15"/>
<rect x="959.90" y="302.2" width="3.2" height="16.8" fill="#16a516"/>
<line x1="968.50" y1="287.6" x2="968.50" y2="304.8" stroke="#347c34" stroke-width="1.15"/>
<rect x="966.90" y="298.9" width="3.2" height="2.5" fill="#16a516"/>
<line x1="974.50" y1="293.9" x2="974.50" y2="314.6" stroke="#347c34" stroke-width="1.15"/>
<rect x="972.90" y="295.1" width="3.2" height="3.0" fill="#16a516"/>
<line x1="981.50" y1="278.2" x2="981.50" y2="301.7" stroke="#347c34" stroke-width="1.15"/>
<rect x="979.90" y="284.9" width="3.2" height="11.8" fill="#16a516"/>
<line x1="987.50" y1="255.1" x2="987.50" y2="295.4" stroke="#347c34" stroke-width="1.15"/>
<rect x="985.90" y="258.6" width="3.2" height="25.1" fill="#16a516"/>
<line x1="994.50" y1="258.3" x2="994.50" y2="297.0" stroke="#9e2a2a" stroke-width="1.15"/>
<rect x="992.90" y="258.9" width="3.2" height="35.0" fill="#e60505"/>
<line x1="1000.50" y1="287.9" x2="1000.50" y2="309.6" stroke="#9e2a2a" stroke-width="1.15"/>
<rect x="998.90" y="294.6" width="3.2" height="8.9" fill="#e60505"/>
<line x1="1007.50" y1="282.1" x2="1007.50" y2="309.6" stroke="#347c34" stroke-width="1.15"/>
<rect x="1005.90" y="285.2" width="3.2" height="18.8" fill="#16a516"/>
<line x1="1013.50" y1="282.9" x2="1013.50" y2="306.4" stroke="#9e2a2a" stroke-width="1.15"/>
<rect x="1011.90" y="285.2" width="3.2" height="9.9" fill="#e60505"/>
<line x1="1020.50" y1="272.2" x2="1020.50" y2="297.5" stroke="#347c34" stroke-width="1.15"/>
<rect x="1018.90" y="291.8" width="3.2" height="4.4" fill="#16a516"/>
<line x1="1026.50" y1="276.1" x2="1026.50" y2="308.7" stroke="#347c34" stroke-width="1.15"/>
<rect x="1024.90" y="284.0" width="3.2" height="7.8" fill="#16a516"/>
<line x1="1033.50" y1="270.0" x2="1033.50" y2="285.5" stroke="#347c34" stroke-width="1.15"/>
<rect x="1031.90" y="283.2" width="3.2" height="1.6" fill="#16a516"/>
<line x1="1039.50" y1="262.5" x2="1039.50" y2="289.6" stroke="#347c34" stroke-width="1.15"/>
<rect x="1037.90" y="266.0" width="3.2" height="16.9" fill="#16a516"/>
<line x1="1046.50" y1="248.4" x2="1046.50" y2="268.8" stroke="#9e2a2a" stroke-width="1.15"/>
<rect x="1044.90" y="265.6" width="3.2" height="2.4" fill="#e60505"/>
<line x1="1053.50" y1="260.2" x2="1053.50" y2="278.7" stroke="#347c34" stroke-width="1.15"/>
<rect x="1051.90" y="262.2" width="3.2" height="5.0" fill="#16a516"/>
<line x1="1059.50" y1="245.1" x2="1059.50" y2="265.5" stroke="#347c34" stroke-width="1.15"/>
<rect x="1057.90" y="252.6" width="3.2" height="8.9" fill="#16a516"/>
<line x1="1066.50" y1="251.8" x2="1066.50" y2="268.3" stroke="#9e2a2a" stroke-width="1.15"/>
<rect x="1064.90" y="252.6" width="3.2" height="14.9" fill="#e60505"/>
<line x1="1072.50" y1="249.2" x2="1072.50" y2="268.3" stroke="#347c34" stroke-width="1.15"/>
<rect x="1070.90" y="250.3" width="3.2" height="17.6" fill="#16a516"/>
<line x1="1079.50" y1="241.2" x2="1079.50" y2="255.8" stroke="#347c34" stroke-width="1.15"/>
<rect x="1077.90" y="251.4" width="3.2" height="1.6" fill="#16a516"/>
<line x1="1085.50" y1="244.3" x2="1085.50" y2="257.3" stroke="#347c34" stroke-width="1.15"/>
<rect x="1083.90" y="246.7" width="3.2" height="3.6" fill="#16a516"/>
<line x1="1092.50" y1="239.3" x2="1092.50" y2="262.5" stroke="#9e2a2a" stroke-width="1.15"/>
<rect x="1090.90" y="246.7" width="3.2" height="12.7" fill="#e60505"/>
<line x1="1098.50" y1="256.1" x2="1098.50" y2="266.7" stroke="#347c34" stroke-width="1.15"/>
<rect x="1096.90" y="257.0" width="3.2" height="1.9" fill="#16a516"/>
<line x1="1105.50" y1="257.0" x2="1105.50" y2="274.6" stroke="#9e2a2a" stroke-width="1.15"/>
<rect x="1103.90" y="257.3" width="3.2" height="13.6" fill="#e60505"/>
<line x1="1111.50" y1="271.0" x2="1111.50" y2="288.7" stroke="#9e2a2a" stroke-width="1.15"/>
<rect x="1109.90" y="271.4" width="3.2" height="16.5" fill="#e60505"/>
<line x1="1118.50" y1="286.3" x2="1118.50" y2="319.6" stroke="#9e2a2a" stroke-width="1.15"/>
<rect x="1116.90" y="287.9" width="3.2" height="27.8" fill="#e60505"/>
<line x1="1124.50" y1="301.7" x2="1124.50" y2="324.3" stroke="#9e2a2a" stroke-width="1.15"/>
<rect x="1122.90" y="316.5" width="3.2" height="5.2" fill="#e60505"/>
<line x1="1131.50" y1="318.0" x2="1131.50" y2="331.3" stroke="#9e2a2a" stroke-width="1.15"/>
<rect x="1129.90" y="323.5" width="3.2" height="1.6" fill="#e60505"/>
<line x1="1138.50" y1="319.6" x2="1138.50" y2="345.9" stroke="#9e2a2a" stroke-width="1.15"/>
<rect x="1136.90" y="325.5" width="3.2" height="20.4" fill="#e60505"/>
<line x1="1144.50" y1="345.9" x2="1144.50" y2="402.4" stroke="#9e2a2a" stroke-width="1.15"/>
<rect x="1142.90" y="346.2" width="3.2" height="43.9" fill="#e60505"/>
<line x1="1151.50" y1="377.9" x2="1151.50" y2="398.0" stroke="#9e2a2a" stroke-width="1.15"/>
<rect x="1149.90" y="390.6" width="3.2" height="7.4" fill="#e60505"/>
<line x1="1157.50" y1="394.1" x2="1157.50" y2="417.6" stroke="#9e2a2a" stroke-width="1.15"/>
<rect x="1155.90" y="398.0" width="3.2" height="17.2" fill="#e60505"/>
<line x1="684.6" y1="159.1" x2="1280" y2="262.4" stroke="#eba743" stroke-width="1"/>
<line x1="654.5" y1="333.9" x2="1249" y2="437.7" stroke="#eba743" stroke-width="1"/>
<line x1="26.6" y1="560.35" x2="549.4" y2="123.5" stroke="#4a9eb0" stroke-width="1.05"/>
<line x1="549.4" y1="123.5" x2="1376" y2="123.5" stroke="#4a9eb0" stroke-width="1.1"/>
<line x1="26.6" y1="560.35" x2="1376" y2="560.35" stroke="#4a9eb0" stroke-width="1.1"/>
<line x1="426.4" y1="226.3" x2="1376" y2="226.3" stroke="#4a9eb0" stroke-width="1" stroke-dasharray="5 5.1"/>
<line x1="349.7" y1="290.4" x2="1376" y2="290.4" stroke="#4a9eb0" stroke-width="1" stroke-dasharray="5 5.1"/>
<line x1="287.7" y1="342.2" x2="1376" y2="342.2" stroke="#4a9eb0" stroke-width="1" stroke-dasharray="5 5.1"/>
<line x1="226.3" y1="393.5" x2="1376" y2="393.5" stroke="#4a9eb0" stroke-width="1" stroke-dasharray="5 5.1"/>
<line x1="0" y1="416.4" x2="1376" y2="416.4" stroke="#555" stroke-width="1"/>
<rect x="1118.4" y="398.4" width="98.4" height="49.2" fill="none" stroke="#1c1c1c" stroke-width="1"/>
</g>
<text x="537.3" y="128.2" text-anchor="end" font-size="10" letter-spacing="0.2" fill="#3d97ae">0,0 %</text>
<text x="414.4" y="230.9" text-anchor="end" font-size="10" letter-spacing="0.2" fill="#3d97ae">23,6 %</text>
<text x="337.7" y="295.0" text-anchor="end" font-size="10" letter-spacing="0.2" fill="#3d97ae">38,2 %</text>
<text x="275.7" y="346.8" text-anchor="end" font-size="10" letter-spacing="0.2" fill="#3d97ae">50,0 %</text>
<text x="214.3" y="398.1" text-anchor="end" font-size="10" letter-spacing="0.2" fill="#3d97ae">61,8 %</text>
<text x="14.9" y="564.7" text-anchor="end" font-size="10" letter-spacing="0.2" fill="#3d97ae">100,0 %</text>
<text x="981.8" y="473.9" font-size="12" fill="#222" textLength="148.9" lengthAdjust="spacing">Posible apoyo en el 1,0730</text>
<text x="1138.6" y="588" font-size="12" fill="#222" textLength="97.8" lengthAdjust="spacing">¿Vuelta al origen?</text>
<rect x="1375" y="75" width="2" height="558" fill="#b2b2b2"/>
<rect x="1377" y="182.2" width="3.5" height="1.2" fill="#aaa"/>
<text x="1382.3" y="186.1" font-size="10.2" fill="#2a2a2a" stroke="#2a2a2a" stroke-width="0.3" textLength="38.2" lengthAdjust="spacing">1,50000</text>
<rect x="1377" y="238.4" width="3.5" height="1.2" fill="#aaa"/>
<text x="1382.3" y="242.3" font-size="10.2" fill="#2a2a2a" stroke="#2a2a2a" stroke-width="0.3" textLength="38.2" lengthAdjust="spacing">1,40000</text>
<rect x="1377" y="294.6" width="3.5" height="1.2" fill="#aaa"/>
<text x="1382.3" y="298.5" font-size="10.2" fill="#2a2a2a" stroke="#2a2a2a" stroke-width="0.3" textLength="38.2" lengthAdjust="spacing">1,30000</text>
<rect x="1377" y="350.9" width="3.5" height="1.2" fill="#aaa"/>
<text x="1382.3" y="354.8" font-size="10.2" fill="#2a2a2a" stroke="#2a2a2a" stroke-width="0.3" textLength="38.2" lengthAdjust="spacing">1,20000</text>
<rect x="1377" y="407.1" width="3.5" height="1.2" fill="#aaa"/>
<text x="1382.3" y="411.0" font-size="10.2" fill="#2a2a2a" stroke="#2a2a2a" stroke-width="0.3" textLength="38.2" lengthAdjust="spacing">1,10000</text>
<rect x="1377" y="463.3" width="3.5" height="1.2" fill="#aaa"/>
<text x="1382.3" y="467.2" font-size="10.2" fill="#2a2a2a" stroke="#2a2a2a" stroke-width="0.3" textLength="38.2" lengthAdjust="spacing">1,00000</text>
<rect x="1377" y="519.6" width="3.5" height="1.2" fill="#aaa"/>
<text x="1382.3" y="523.5" font-size="10.2" fill="#2a2a2a" stroke="#2a2a2a" stroke-width="0.3" textLength="38.2" lengthAdjust="spacing">0,90000</text>
<rect x="1377" y="575.8" width="3.5" height="1.2" fill="#aaa"/>
<text x="1382.3" y="579.7" font-size="10.2" fill="#2a2a2a" stroke="#2a2a2a" stroke-width="0.3" textLength="38.2" lengthAdjust="spacing">0,80000</text>
<rect x="1373" y="114.4" width="50" height="18.4" rx="3.5" fill="#35aabf"/>
<text x="1378.6" y="127.8" font-size="10.2" fill="#fff" stroke="#fff" stroke-width="0.1" textLength="38.2" lengthAdjust="spacing">1,60502</text>
<rect x="1373" y="217.5" width="50" height="18.4" rx="3.5" fill="#35aabf"/>
<text x="1378.6" y="230.9" font-size="10.2" fill="#fff" stroke="#fff" stroke-width="0.1" textLength="38.2" lengthAdjust="spacing">1,42188</text>
<rect x="1373" y="281.8" width="50" height="18.4" rx="3.5" fill="#35aabf"/>
<text x="1378.6" y="295.2" font-size="10.2" fill="#fff" stroke="#fff" stroke-width="0.1" textLength="38.2" lengthAdjust="spacing">1,30858</text>
<rect x="1373" y="333.0" width="50" height="18.4" rx="3.5" fill="#35aabf"/>
<text x="1378.6" y="346.4" font-size="10.2" fill="#fff" stroke="#fff" stroke-width="0.1" textLength="38.2" lengthAdjust="spacing">1,21701</text>
<rect x="1373" y="384.4" width="50" height="18.4" rx="3.5" fill="#35aabf"/>
<text x="1378.6" y="397.8" font-size="10.2" fill="#fff" stroke="#fff" stroke-width="0.1" textLength="38.2" lengthAdjust="spacing">1,12544</text>
<rect x="1373" y="551.4" width="50" height="18.4" rx="3.5" fill="#35aabf"/>
<text x="1378.6" y="564.8" font-size="10.2" fill="#fff" stroke="#fff" stroke-width="0.1" textLength="38.2" lengthAdjust="spacing">0,82900</text>
<rect x="1372.2" y="406.6" width="48" height="20" rx="4" fill="#10a010"/>
<text x="1377.1" y="420.6" font-size="10.5" font-weight="bold" fill="#fff" textLength="38.1" lengthAdjust="spacing">1,08570</text>
</svg>
<div id="bottom"></div>
<div style="position:absolute;left:452px;top:634px;width:476px;height:4px;background:#585c63"></div>
<div style="position:absolute;left:382.4px;top:635px;width:12px;height:3px;background:#4a4e56;border-radius:1px 1px 0 0"></div>
<div style="position:absolute;left:399.2px;top:635px;width:12.4px;height:3px;background:#4a4e56;border-radius:1px 1px 0 0"></div>
<div style="position:absolute;left:415.6px;top:635px;width:13px;height:3px;background:#0f6fe0;border-radius:1px 1px 0 0"></div>
<div style="position:absolute;left:432.4px;top:635px;width:13px;height:3px;background:#0f6fe0;border-radius:1px 1px 0 0"></div>
<div style="position:absolute;left:953px;top:635.5px;width:12px;height:3px;background:#4a4e56"></div>
<div style="position:absolute;left:970px;top:635.5px;width:13px;height:3px;background:#4a4e56"></div>
<div style="position:absolute;left:986.7px;top:635.5px;width:13.3px;height:3px;background:#0f6fe0"></div>
<div style="position:absolute;left:1003.5px;top:635.5px;width:13.5px;height:3px;background:#0f6fe0"></div>
<div style="position:absolute;left:937px;top:636px;width:7px;height:4px;background:#d0d4da;border-radius:3px 3px 0 0"></div>
<div style="position:absolute;left:403px;top:636.6px;width:5px;height:3px;background:#d0d4da;border-radius:2px 2px 0 0"></div>
<div style="position:absolute;left:831px;top:634px;width:1px;height:4px;background:#3a3e45"></div>
<div style="position:absolute;left:705px;top:634px;width:1px;height:4px;background:#3a3e45"></div>
<div class="bt" style="left:470px">Posiciones</div><div class="bt" style="left:530px">Tipo de Orden</div>
<div class="bt" style="left:650px">Actividad Diaria</div><div class="bt" style="left:742px">Herramientas de Gráfico</div><div class="bt" style="left:843px">Productos Finanzas</div>
</body></html>
